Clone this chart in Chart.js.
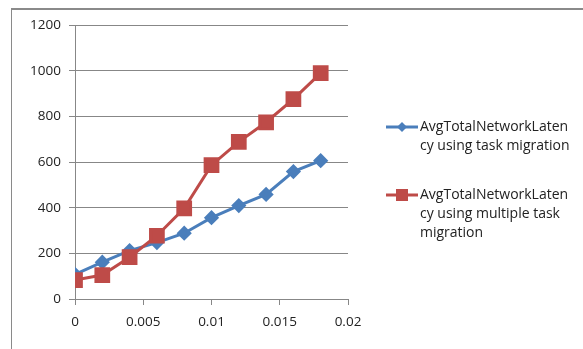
<!DOCTYPE html>
<html>
<head>
<meta charset="utf-8">
<script src="https://cdn.jsdelivr.net/npm/chart.js@4/dist/chart.umd.min.js"></script>
<style>
  html, body { margin: 0; padding: 0; background: #fff; }
  #wrap { position: relative; width: 583px; height: 349px; }
  #frame { position: absolute; left: 11px; top: 8px; right: -5px; bottom: -5px;
           border-top: 2px solid #8a8a8a; border-left: 1px solid #8a8a8a; }
</style>
</head>
<body>
<div id="wrap">
  <div id="frame"></div>
  <canvas id="myChart" width="583" height="349"></canvas>
</div>
<script>
style = {
  blue: '#4a7ebb',
  red: '#be4b48',
  grid: '#878787',
  font: "'Open Sans', sans-serif"
}

// x values (seconds) and latency series
const xValues = [0, 0.002, 0.004, 0.006, 0.008, 0.01, 0.012, 0.014, 0.016, 0.018];
const taskMigration = [108, 161, 212, 247, 288, 356, 409, 458, 558, 606];
const multipleTaskMigration = [83, 105, 183, 277, 397, 586, 688, 774, 875, 989];
const xTicks = [0, 0.005, 0.01, 0.015, 0.02];
const legendLabels = [
  ['AvgTotalNetworkLaten', 'cy using task migration'],
  ['AvgTotalNetworkLaten', 'cy using multiple task', 'migration']
];

const toPoints = (ys) => xValues.map((x, i) => ({ x: x, y: ys[i] }));

// legend drawn at the right, with wrapped text like the original
const sideLegend = {
  id: 'sideLegend',
  afterDraw(chart) {
    const ctx = chart.ctx;
    const items = [
      { color: style.blue, shape: 'diamond', y: 127 },
      { color: style.red, shape: 'square', y: 195 }
    ];
    ctx.save();
    ctx.font = "14px " + style.font;
    ctx.textBaseline = 'middle';
    items.forEach((it, i) => {
      ctx.strokeStyle = it.color;
      ctx.fillStyle = it.color;
      ctx.lineWidth = 3;
      ctx.beginPath();
      ctx.moveTo(386, it.y);
      ctx.lineTo(418, it.y);
      ctx.stroke();
      if (it.shape === 'diamond') {
        ctx.beginPath();
        ctx.moveTo(402, it.y - 5);
        ctx.lineTo(407, it.y);
        ctx.lineTo(402, it.y + 5);
        ctx.lineTo(397, it.y);
        ctx.closePath();
        ctx.fill();
      } else {
        ctx.fillRect(396, it.y - 6, 12, 12);
      }
      ctx.fillStyle = '#222';
      legendLabels[i].forEach((line, j) => {
        ctx.fillText(line, 420, it.y + j * 19);
      });
    });
    ctx.restore();
  }
};

const data = {
  datasets: [{
    label: 'AvgTotalNetworkLatency using task migration',
    data: toPoints(taskMigration),
    borderColor: style.blue,
    backgroundColor: style.blue,
    borderWidth: 3,
    pointStyle: 'rectRot',
    pointRadius: 5.5,
    order: 2
  }, {
    label: 'AvgTotalNetworkLatency using multiple task migration',
    data: toPoints(multipleTaskMigration),
    borderColor: style.red,
    backgroundColor: style.red,
    borderWidth: 3,
    pointStyle: 'rect',
    pointRadius: 9,
    order: 1
  }]
};

const config = {
  type: 'line',
  data,
  plugins: [sideLegend],
  options: {
    responsive: false,
    animation: false,
    layout: { padding: { top: 25, right: 235, bottom: 0, left: 0 } },
    plugins: {
      legend: { display: false },
      tooltip: { enabled: false }
    },
    scales: {
      x: {
        type: 'linear',
        min: 0,
        max: 0.02,
        afterBuildTicks: (scale) => { scale.ticks = xTicks.map(v => ({ value: v })); },
        afterFit: (scale) => { scale.height = 50; },
        grid: { drawOnChartArea: false, drawTicks: true, tickLength: 6, color: style.grid },
        border: { color: style.grid },
        ticks: {
          color: '#222',
          padding: 9,
          maxRotation: 0,
          font: { family: style.font, size: 13.5 },
          callback: (v) => String(v)
        }
      },
      y: {
        min: 0,
        max: 1200,
        afterFit: (scale) => { scale.width = 75; },
        grid: { color: style.grid, tickLength: 6 },
        border: { color: style.grid },
        ticks: {
          stepSize: 200,
          color: '#222',
          padding: 8,
          font: { family: style.font, size: 13.5 },
          callback: (v) => String(v)
        }
      }
    }
  }
};

// create graph
var myChart = new Chart(document.getElementById('myChart'), config);
</script>
</body>
</html>
